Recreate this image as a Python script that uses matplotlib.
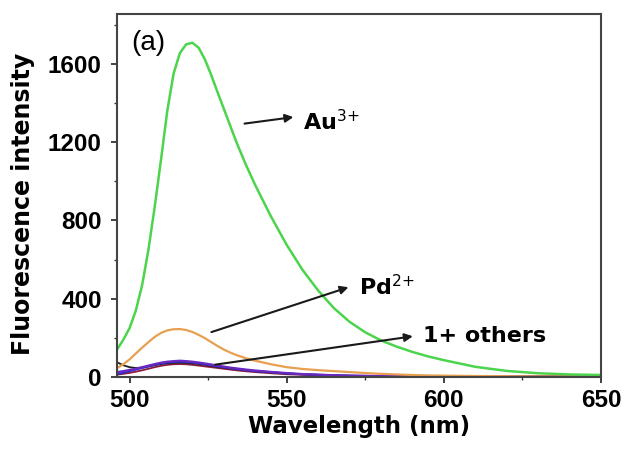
import matplotlib
matplotlib.use("Agg")
import matplotlib.pyplot as plt
from matplotlib.ticker import MultipleLocator

wavelength = [496, 498, 500, 502, 504, 506, 508, 510, 512, 514, 516, 518, 520, 522, 524,
              526, 528, 530, 532, 534, 537, 540, 545, 550, 555, 560, 565, 570, 575, 580,
              585, 590, 595, 600, 610, 620, 630, 640, 650]
au3 = [140, 190, 250, 340, 470, 650, 870, 1110, 1360, 1550, 1655, 1700, 1708, 1682, 1622,
       1542, 1455, 1370, 1285, 1200, 1085, 980, 820, 675, 548, 442, 352, 282, 228, 187,
       155, 128, 105, 86, 52, 31, 19, 13, 10]
pd2 = [45, 65, 90, 120, 150, 178, 205, 225, 238, 244, 245, 240, 230, 215, 198,
       178, 158, 140, 125, 112, 96, 83, 65, 50, 41, 35, 30, 25, 20, 16,
       13, 10, 8, 7, 5, 4, 3, 3, 3]
other_purple = [25, 30, 36, 42, 50, 58, 66, 73, 78, 81, 83, 81, 78, 74, 69,
                64, 58, 53, 48, 44, 38, 33, 26, 20, 15, 12, 9, 7, 6, 5,
                4, 4, 3, 3, 2, 2, 2, 2, 2]
other_blue = [15, 22, 30, 38, 46, 54, 62, 69, 74, 77, 78, 77, 74, 70, 65,
              60, 55, 50, 45, 41, 35, 30, 24, 18, 14, 11, 8, 6, 5, 4,
              4, 3, 3, 3, 2, 2, 2, 2, 2]
other_black = [75, 60, 50, 46, 48, 54, 60, 66, 70, 72, 73, 72, 70, 66, 62,
               57, 52, 48, 44, 40, 35, 30, 24, 18, 14, 11, 8, 6, 5, 4,
               3, 3, 2, 2, 2, 2, 2, 2, 2]
other_red = [12, 16, 21, 27, 34, 42, 50, 57, 62, 65, 66, 65, 62, 58, 54,
             50, 46, 42, 38, 34, 29, 25, 19, 14, 11, 9, 7, 6, 5, 4,
             4, 4, 4, 4, 4, 4, 4, 4, 4]

xticks = [500, 550, 600, 650]
yticks = [0, 400, 800, 1200, 1600]

plt.rcParams['font.family'] = ['DejaVu Sans']
plt.rcParams['mathtext.fontset'] = 'dejavusans'
fig = plt.figure(figsize=(6.25, 4.49), dpi=100)
ax = fig.add_axes([0.1872, 0.1604, 0.7744, 0.8084])

ax.plot(wavelength, other_red, color='#8b1a3a', lw=1.3)
ax.plot(wavelength, other_black, color='#202020', lw=1.3)
ax.plot(wavelength, other_blue, color='#2b2bd0', lw=1.5)
ax.plot(wavelength, other_purple, color='#6a28c0', lw=1.6)
ax.plot(wavelength, pd2, color='#e8a050', lw=1.6)
ax.plot(wavelength, au3, color='#4cd44c', lw=1.8)

ax.set_xlim(496, 650)
ax.set_ylim(0, 1855)
ax.set_xticks(xticks)
ax.set_yticks(yticks)
ax.xaxis.set_minor_locator(MultipleLocator(25))
ax.yaxis.set_minor_locator(MultipleLocator(200))
ax.tick_params(which='major', direction='out', length=4, width=1.3, color='#333333')
ax.tick_params(which='minor', direction='out', length=2.5, width=1.0, color='#333333')
ax.tick_params(axis='x', which='major', pad=5)
ax.tick_params(axis='y', which='major', pad=7)
for lab in ax.get_xticklabels() + ax.get_yticklabels():
    lab.set_fontweight('bold')
    lab.set_fontfamily('Liberation Sans')
    lab.set_fontsize(17.5)
for s in ax.spines.values():
    s.set_linewidth(1.5)
    s.set_color('#444444')

ax.set_xlabel('Wavelength (nm)', fontsize=16.5, fontweight='bold')
ax.set_ylabel('Fluorescence intensity', fontsize=17, fontweight='bold')
ax.xaxis.set_label_coords(0.5, -0.1047)
ax.yaxis.set_label_coords(-0.1694, 0.477)

ax.text(500.6, 1707, '(a)', fontsize=20, va='center', ha='left', family='Liberation Sans')

arrow = dict(arrowstyle='-|>', color='#1a1a1a', lw=1.5, mutation_scale=12)
ax.annotate('', xy=(553, 1330), xytext=(535.7, 1293), arrowprops=arrow)
ax.text(555.1, 1303, 'Au$^{3{+}}$', fontsize=16, fontweight='bold', va='center', ha='left')
ax.annotate('', xy=(570.5, 463), xytext=(525.2, 225), arrowprops=arrow)
ax.text(572.9, 460, 'Pd$^{2{+}}$', fontsize=16, fontweight='bold', va='center', ha='left')
ax.annotate('', xy=(591, 210), xytext=(526.4, 61), arrowprops=arrow)
ax.text(593.3, 210, '1+ others', fontsize=16, fontweight='bold', va='center', ha='left')

fig.savefig('out.png', dpi=100)
